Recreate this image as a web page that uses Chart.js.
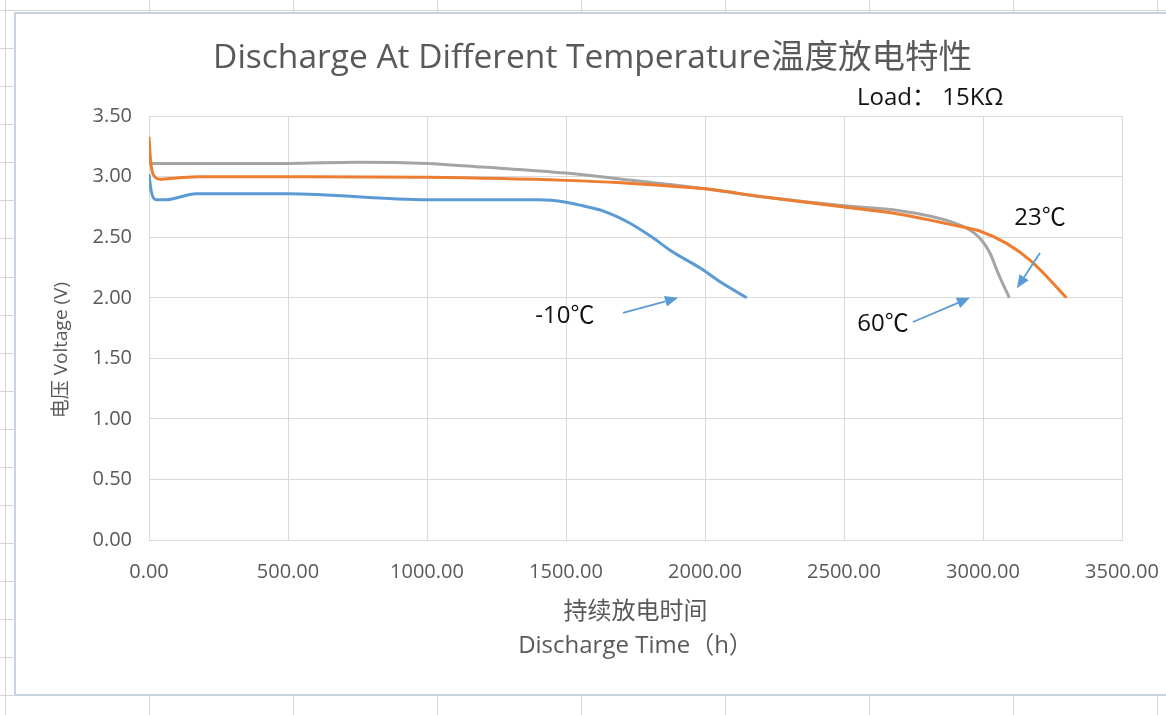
<!DOCTYPE html>
<html>
<head>
<meta charset="utf-8">
<script src="https://cdn.jsdelivr.net/npm/chart.js@4.4.1/dist/chart.umd.min.js"></script>
<style>
  html, body { margin: 0; padding: 0; width: 1166px; height: 715px; overflow: hidden; background: #fff; }
  #sheet {
    position: absolute; left: 0; top: 0; width: 1166px; height: 715px;
    background-image:
      repeating-linear-gradient(to right, transparent 0px, transparent 5px, #d6d6d6 5px, #d6d6d6 6px, transparent 6px, transparent 144px),
      repeating-linear-gradient(to bottom, transparent 0px, transparent 10px, #d6d6d6 10px, #d6d6d6 11px, transparent 11px, transparent 38.08px);
  }
  #frame {
    position: absolute; left: 14px; top: 12px; width: 1180px; height: 680px;
    border: 2px solid #c9d2df; background: #fff;
  }
  #c { position: absolute; left: 0; top: 0; }
</style>
</head>
<body>
<div id="sheet"></div>
<div id="frame"></div>
<canvas id="c" width="1166" height="715"></canvas>
<script>
// ---------- data ----------
const seriesNames = ['-10℃', '23℃', '60℃'];

const coldTime    = [0, 8, 25, 60, 170, 500, 1000, 1200, 1400, 1500, 1560, 1630, 1727, 1810, 1883, 1980, 2063, 2150];
const coldVoltage = [3.02, 2.88, 2.81, 2.81, 2.86, 2.86, 2.81, 2.81, 2.81, 2.79, 2.76, 2.72, 2.62, 2.50, 2.38, 2.25, 2.12, 2.00];

const roomTime    = [0, 5, 15, 40, 100, 180, 500, 1000, 1500, 1700, 2000, 2220, 2500, 2700, 2915, 2990, 3085, 3170, 3240, 3300];
const roomVoltage = [3.33, 3.15, 3.02, 2.98, 2.99, 3.00, 3.00, 2.995, 2.97, 2.95, 2.90, 2.83, 2.75, 2.69, 2.59, 2.55, 2.45, 2.31, 2.15, 2.00];

const hotTime     = [0, 500, 750, 1000, 1200, 1500, 1700, 2000, 2220, 2500, 2700, 2870, 2953, 2990, 3025, 3055, 3095];
const hotVoltage  = [3.11, 3.11, 3.12, 3.11, 3.08, 3.03, 2.98, 2.90, 2.83, 2.76, 2.72, 2.64, 2.56, 2.49, 2.37, 2.20, 2.00];

const xTickLabels = ['0.00', '500.00', '1000.00', '1500.00', '2000.00', '2500.00', '3000.00', '3500.00'];
const yTickLabels = ['0.00', '0.50', '1.00', '1.50', '2.00', '2.50', '3.00', '3.50'];

const chartTitle = 'Discharge At Different Temperature温度放电特性';
const xTitle = ['持续放电时间', 'Discharge Time（h）'];
const yTitle = '电压 Voltage (V)';
const loadText = 'Load： 15KΩ';

// annotation anchors in data units (hours, volts), same order as seriesNames
const labelAnchors = [[1496, 1.85], [3205, 2.66], [2640, 1.78]];
const arrowFrom    = [[1705, 1.875], [3205, 2.37], [2748, 1.80]];
const arrowTo      = [[1903, 2.00], [3122, 2.08], [2953, 2.00]];
const loadAnchor   = [2547, 3.65];

// ---------- chart ----------
const FONT = "'Open Sans', 'Noto Sans CJK SC', sans-serif";
const toPoints = (t, v) => t.map((x, i) => ({ x, y: v[i] }));

const annoPlugin = {
  id: 'anno',
  afterDraw(chart) {
    const { ctx, scales: { x, y }, chartArea } = chart;
    ctx.save();
    // Load text
    ctx.fillStyle = '#111';
    ctx.font = '24px ' + FONT;
    ctx.textAlign = 'left';
    ctx.textBaseline = 'middle';
    ctx.fillText(loadText, x.getPixelForValue(loadAnchor[0]), y.getPixelForValue(loadAnchor[1]));
    // temperature labels
    ctx.font = '24px ' + FONT;
    ctx.textAlign = 'center';
    seriesNames.forEach((name, i) => {
      ctx.fillText(name, x.getPixelForValue(labelAnchors[i][0]), y.getPixelForValue(labelAnchors[i][1]));
    });
    // arrows
    ctx.strokeStyle = '#5b9bd5';
    ctx.fillStyle = '#5b9bd5';
    ctx.lineWidth = 1.8;
    arrowFrom.forEach((f, i) => {
      const x1 = x.getPixelForValue(f[0]), y1 = y.getPixelForValue(f[1]);
      const x2 = x.getPixelForValue(arrowTo[i][0]), y2 = y.getPixelForValue(arrowTo[i][1]);
      const ang = Math.atan2(y2 - y1, x2 - x1);
      const hl = 13, hw = 5.5;
      const bx = x2 - hl * Math.cos(ang), by = y2 - hl * Math.sin(ang);
      ctx.beginPath();
      ctx.moveTo(x1, y1);
      ctx.lineTo(bx, by);
      ctx.stroke();
      ctx.beginPath();
      ctx.moveTo(x2, y2);
      ctx.lineTo(bx + hw * Math.sin(ang), by - hw * Math.cos(ang));
      ctx.lineTo(bx - hw * Math.sin(ang), by + hw * Math.cos(ang));
      ctx.closePath();
      ctx.fill();
    });
    // y axis title
    ctx.fillStyle = '#595959';
    ctx.font = '19px ' + FONT;
    ctx.translate(chartArea.left - 87, (chartArea.top + chartArea.bottom) / 2 + 22);
    ctx.rotate(-Math.PI / 2);
    ctx.textAlign = 'center';
    ctx.textBaseline = 'middle';
    ctx.fillText(yTitle, 0, 0);
    ctx.restore();
  }
};

const lineStyle = (color) => ({
  borderColor: color, backgroundColor: color, borderWidth: 3,
  pointRadius: 0, cubicInterpolationMode: 'monotone', fill: false
});

new Chart(document.getElementById('c'), {
  type: 'line',
  data: {
    datasets: [
      { label: seriesNames[0], data: toPoints(coldTime, coldVoltage), ...lineStyle('#5b9bd5') },
      { label: seriesNames[1], data: toPoints(roomTime, roomVoltage), ...lineStyle('#ed7d31') },
      { label: seriesNames[2], data: toPoints(hotTime, hotVoltage), ...lineStyle('#a5a5a5') }
    ]
  },
  options: {
    responsive: false,
    animation: false,
    layout: { padding: { left: 20, right: 1, top: 0, bottom: 0 } },
    plugins: {
      legend: { display: false },
      tooltip: { enabled: false },
      title: {
        display: true, text: chartTitle, color: '#595959',
        font: { family: FONT, size: 33.5, weight: 'normal', lineHeight: 1.2 },
        padding: { top: 38, bottom: 38 }
      }
    },
    scales: {
      x: {
        type: 'linear', min: 0, max: 3500,
        afterFit: (s) => { s.height = 175; s.paddingLeft = 0; s.paddingRight = 0; },
        ticks: {
          stepSize: 500, color: '#595959', padding: 20,
          font: { family: FONT, size: 20 },
          callback: (v, i) => xTickLabels[i]
        },
        grid: { color: '#d9d9d9', drawTicks: false },
        border: { color: '#d9d9d9' },
        title: {
          display: true, text: xTitle, color: '#595959',
          font: { family: FONT, size: 24, lineHeight: 1.417 },
          padding: { top: 0, bottom: 52 }
        }
      },
      y: {
        type: 'linear', min: 0, max: 3.5,
        afterFit: (s) => { s.width = 129; },
        ticks: {
          stepSize: 0.5, color: '#595959', padding: 17,
          font: { family: FONT, size: 20 },
          callback: (v, i) => yTickLabels[i]
        },
        grid: { color: '#d9d9d9', drawTicks: false },
        border: { color: '#d9d9d9' }
      },
      y2: {
        position: 'right', display: true,
        afterFit: (s) => { s.width = 43; },
        ticks: { display: false },
        grid: { display: false },
        border: { display: false }
      }
    }
  },
  plugins: [annoPlugin]
});
</script>
</body>
</html>
